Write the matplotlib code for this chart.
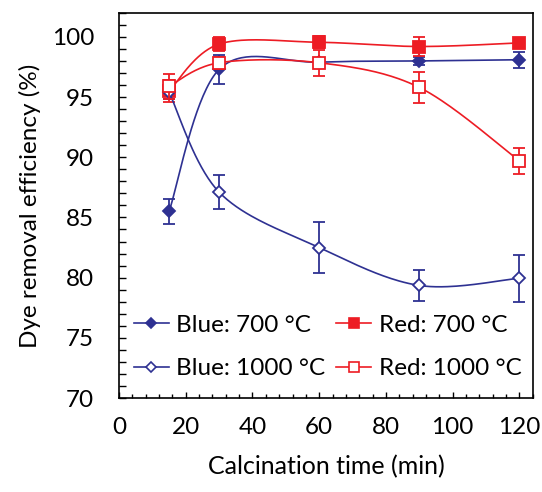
import numpy as np
import matplotlib
matplotlib.use("Agg")
import matplotlib.pyplot as plt
from matplotlib.ticker import MultipleLocator
from matplotlib.lines import Line2D

plt.rcParams['font.family'] = ['Lato', 'DejaVu Sans']

time = [15, 30, 60, 90, 120]
blue_700 = [85.5, 97.3, 97.9, 98.0, 98.1]
blue_700_err = [1.05, 1.2, 0.3, 0.3, 0.65]
red_700 = [95.5, 99.4, 99.55, 99.2, 99.5]
red_700_err = [0.95, 0.55, 0.5, 0.75, 0.3]
blue_1000 = [95.4, 87.1, 82.5, 79.35, 79.95]
blue_1000_err = [0.6, 1.4, 2.1, 1.3, 1.95]
red_1000 = [95.9, 97.85, 97.85, 95.8, 89.7]
red_1000_err = [1.05, 0.5, 1.1, 1.3, 1.1]

navy = '#2e3192'
red = '#ed1c24'


def smooth(x, y, n=40):
    # excel style smoothed line: cubic bezier with catmull-rom control points
    p = np.column_stack([x, y]).astype(float)
    p = np.vstack([p[0], p, p[-1]])
    out = []
    for i in range(1, len(p) - 2):
        p0, p1, p2, p3 = p[i - 1], p[i], p[i + 1], p[i + 2]
        c1 = p1 + (p2 - p0) / 6
        c2 = p2 - (p3 - p1) / 6
        t = np.linspace(0, 1, n)[:, None]
        seg = ((1 - t) ** 3) * p1 + 3 * ((1 - t) ** 2) * t * c1 + 3 * (1 - t) * t ** 2 * c2 + t ** 3 * p2
        out.append(seg if i == 1 else seg[1:])
    out = np.vstack(out)
    return out[:, 0], out[:, 1]


fig = plt.figure(figsize=(5.42, 4.92), dpi=100)
ax = fig.add_axes([0.2196, 0.191, 0.7634, 0.783])

series = [
    (blue_700, blue_700_err, navy, 'D', navy, 6, 'Blue: 700 °C'),
    (red_700, red_700_err, red, 's', red, 8.5, 'Red: 700 °C'),
    (blue_1000, blue_1000_err, navy, 'D', 'white', 6, 'Blue: 1000 °C'),
    (red_1000, red_1000_err, red, 's', 'white', 8, 'Red: 1000 °C'),
]

handles = {}
for z, (vals, err, col, mk, fc, ms, lab) in enumerate(series):
    sx, sy = smooth(time, vals)
    ax.plot(sx, sy, color=col, lw=1.2, zorder=2 + z)
    ax.errorbar(time, vals, yerr=err, fmt='none', ecolor=col, elinewidth=1.3,
                capsize=4, capthick=1.3, zorder=2 + z)
    ax.plot(time, vals, ls='none', marker=mk, ms=ms, mfc=fc, mec=col, mew=1.3, zorder=2 + z)
    handles[lab] = Line2D([], [], color=col, lw=1.2, marker=mk, ms=ms * 0.85,
                          mfc=fc, mec=col, mew=1.2)

order = ['Blue: 700 °C', 'Blue: 1000 °C', 'Red: 700 °C', 'Red: 1000 °C']
ax.legend([handles[k] for k in order], order, ncol=2, loc='lower left',
          bbox_to_anchor=(0.0, 0.011), frameon=False, fontsize=17.5,
          handlelength=1.45, handletextpad=0.3, columnspacing=0.45,
          labelspacing=0.93, numpoints=1, borderaxespad=0.2)

ax.set_xlim(0, 124)
ax.set_ylim(70, 102)
ax.xaxis.set_major_locator(MultipleLocator(20))
ax.xaxis.set_minor_locator(MultipleLocator(4))
ax.yaxis.set_major_locator(MultipleLocator(5))
ax.yaxis.set_minor_locator(MultipleLocator(1))
ax.tick_params(which='both', direction='in', top=False, right=False, labelsize=17.5, width=1)
ax.tick_params(axis='y', which='both', length=5)
ax.tick_params(axis='x', which='major', length=4, pad=14)
ax.tick_params(axis='x', which='minor', length=3)
ax.tick_params(axis='y', pad=18)
for s in ax.spines.values():
    s.set_linewidth(1.2)

ax.set_xlabel('Calcination time (min)', fontsize=18, labelpad=12)
ax.set_ylabel('Dye removal efficiency (%)', fontsize=17.5, labelpad=8)

fig.savefig('out.png', dpi=100)
